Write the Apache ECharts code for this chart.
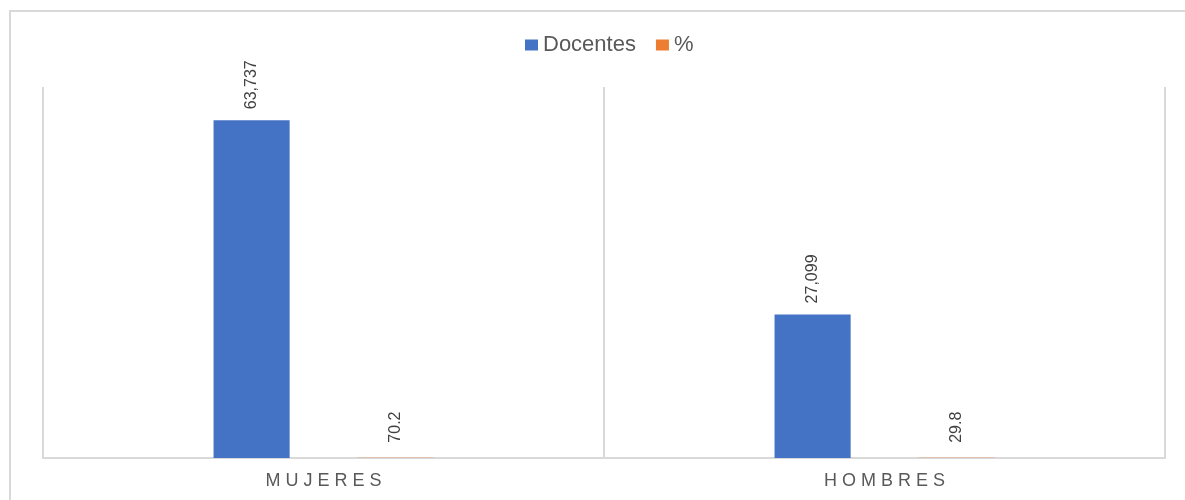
<!DOCTYPE html>
<html>
<head>
<meta charset="utf-8">
<script src="https://cdn.jsdelivr.net/npm/echarts@6/dist/echarts.min.js"></script>
<style>
html,body{margin:0;padding:0;background:#fff;}
#chart{width:1185px;height:500px;}
</style>
</head>
<body>
<div id="chart"></div>
<script>
const categories = ['MUJERES', 'HOMBRES'];
const docentes = [63737, 27099];
const porcentaje = [70.2, 29.8];
const seriesNames = ['Docentes', '%'];

const chart = echarts.init(document.getElementById('chart'), null, {renderer: 'canvas'});
const numFmt = v => v.toLocaleString('en-US');

chart.setOption({
  animation: false,
  backgroundColor: '#ffffff',
  graphic: [{
    type: 'rect',
    shape: {x: 10, y: 11, width: 1300, height: 700},
    style: {fill: 'none', stroke: '#d9d9d9', lineWidth: 2},
    silent: true, z: -1
  }],
  legend: {
    left: 520,
    top: 29,
    itemWidth: 13,
    itemHeight: 11,
    itemGap: 20,
    icon: 'rect',
    textStyle: {fontFamily: 'Liberation Sans, Arial, sans-serif', fontSize: 22, color: '#595959'},
    data: seriesNames
  },
  grid: {left: 43, right: 20, top: 87, bottom: 42, containLabel: false},
  xAxis: {
    type: 'category',
    data: categories,
    boundaryGap: true,
    axisLine: {show: true, lineStyle: {color: '#d9d9d9', width: 2}},
    axisTick: {show: false},
    splitLine: {show: true, interval: 0, lineStyle: {color: '#d9d9d9', width: 2}},
    axisLabel: {
      interval: 0,
      margin: 14,
      fontFamily: 'Liberation Sans, Arial, sans-serif',
      fontSize: 18,
      color: '#595959',
      formatter: v => v.split('').join(' ')
    }
  },
  yAxis: {
    type: 'value',
    min: 0,
    max: 70000,
    show: false,
    splitLine: {show: false}
  },
  series: [
    {
      name: seriesNames[0],
      type: 'bar',
      data: docentes,
      barGap: '89%',
      barCategoryGap: '60.8%',
      itemStyle: {color: '#4472C4'},
      label: {
        show: true,
        position: 'top',
        rotate: 90,
        align: 'left',
        verticalAlign: 'middle',
        distance: 11,
        fontFamily: 'Liberation Sans Narrow, Arial Narrow, Liberation Sans, sans-serif',
        fontSize: 16,
        color: '#404040',
        formatter: p => numFmt(p.value)
      }
    },
    {
      name: seriesNames[1],
      type: 'bar',
      data: porcentaje,
      barGap: '89%',
      barCategoryGap: '60.8%',
      itemStyle: {color: '#ED7D31'},
      label: {
        show: true,
        position: 'top',
        rotate: 90,
        align: 'left',
        verticalAlign: 'middle',
        distance: 15,
        fontFamily: 'Liberation Sans Narrow, Arial Narrow, Liberation Sans, sans-serif',
        fontSize: 16,
        color: '#404040',
        formatter: p => p.value.toFixed(1)
      }
    }
  ]
});
</script>
</body>
</html>
